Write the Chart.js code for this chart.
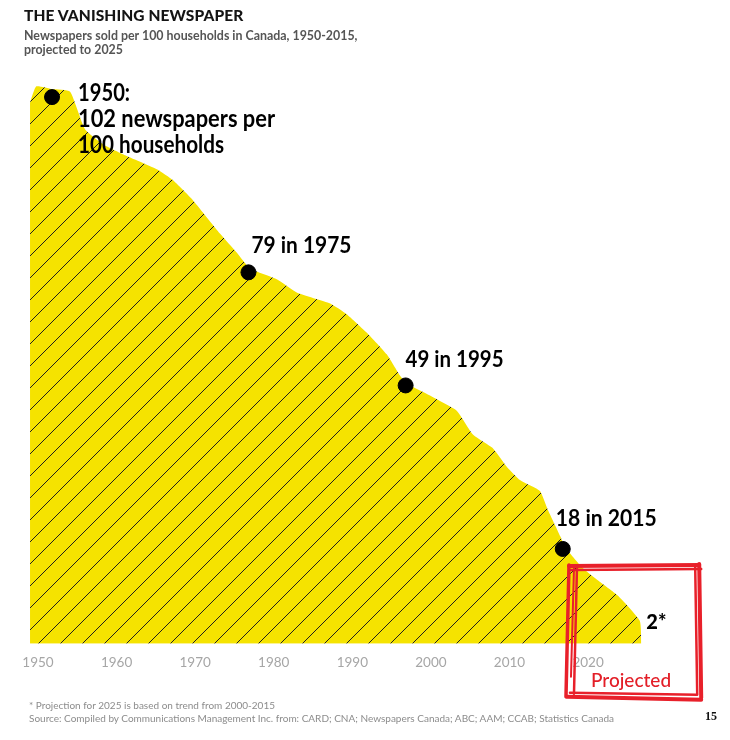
<!DOCTYPE html>
<html><head><meta charset="utf-8">
<script src="https://cdn.jsdelivr.net/npm/chart.js@4.4.1/dist/chart.umd.min.js"></script>
<style>
html,body{margin:0;padding:0;background:#fff;}
#wrap{position:relative;width:730px;height:740px;overflow:hidden;background:#fff;}
canvas{position:absolute;left:0;top:0;}
.t{position:absolute;white-space:nowrap;}
#title{left:24px;top:6px;font:900 15.5px Lato, sans-serif;color:#141414;line-height:18px;letter-spacing:0.1px;}
#sub{left:24px;top:29px;font:bold 12.4px Lato, sans-serif;color:#555;line-height:14px;}
#foot{left:29px;top:699px;font:10px Lato, sans-serif;color:#8c8c8c;line-height:12.5px;}
#page{left:705px;top:709px;font:bold 12px "Liberation Serif", serif;color:#111;}
</style></head>
<body><div id="wrap">
<canvas id="c" width="730" height="740"></canvas>
<div class="t" id="title">THE VANISHING NEWSPAPER</div>
<div class="t" id="sub">Newspapers sold per 100 households in Canada, 1950-2015,<br>projected to 2025</div>
<div class="t" id="foot">* Projection for 2025 is based on trend from 2000-2015<br>Source: Compiled by Communications Management Inc. from: CARD; CNA; Newspapers Canada; ABC; AAM; CCAB; Statistics Canada</div>
<div class="t" id="page">15</div>
</div>
<script>
// Outline of the drawn area (year, newspapers per 100 households)
const edgeYears  = [1947.2,1948,1950,1952.3,1954.2,1956.7,1959.5,1963.4,1965.4,1967.8,1971.4,1973.5,1975.2,1978.6,1981.2,1985.4,1987.5,1990.1,1992.6,1994.3,1995.2,1998.5,2001.5,2003.6,2006.1,2007.9,2009.6,2012.1,2013.1,2014.7,2015.3,2017.5,2019.5,2022,2024.8,2025];
const edgeValues = [101,104,103.5,103,96,93,91,88.5,86.5,83,76.5,73,70,68,65.5,63.5,61.5,58,54,50,48.5,46,43.5,39,36.5,33,30.5,28.5,25,20,18,14.2,11.8,9,4.3,0];
// Highlighted points
const dotYears  = [1950,1975,1995,2015];
const dotValues = [102,69.3,48.2,17.7];
const dotLabels = [["1950:","102 newspapers per","100 households"],["79 in 1975"],["49 in 1995"],["18 in 2015"]];
// Projection end
const projYear = 2025, projValue = 4.3, projLabel = "2*";
const projStart = 2016.3, projBoxLabel = "Projected";
// Axis ticks
const tickYears = [1950,1960,1970,1980,1990,2000,2010,2020];

function makePattern(){
  const s = 22, p = document.createElement('canvas');
  p.width = s; p.height = s;
  const g = p.getContext('2d');
  g.fillStyle = '#f5e300'; g.fillRect(0,0,s,s);
  g.strokeStyle = '#1e1e1e'; g.lineWidth = 1;
  g.beginPath();
  g.moveTo(-2, s+2); g.lineTo(s+2, -2);
  g.moveTo(-s/2-2, s/2+2); g.lineTo(s/2+2, -s/2-2);
  g.moveTo(s/2-2, s*1.5+2); g.lineTo(s*1.5+2, s/2-2);
  g.stroke();
  return g.createPattern(p,'repeat');
}

const hand = '"Lato", "DejaVu Sans", sans-serif';
const annot = {
  id:'annot',
  afterDatasetsDraw(chart){
    const ctx = chart.ctx, xs = chart.scales.x, ys = chart.scales.y;
    ctx.save();
    ctx.fillStyle = '#000';
    ctx.textBaseline = 'alphabetic';
    ctx.textAlign = 'left';
    const lay = [
      {dx:26, dy:4, gap:26, w:[52,197,146], f:24},
      {dx:3, dy:-19, gap:0, w:[100], f:22},
      {dx:0, dy:-18, gap:0, w:[98], f:22},
      {dx:-7, dy:-23, gap:0, w:[101], f:22}
    ];
    dotYears.forEach((yr,i)=>{
      const px = xs.getPixelForValue(yr), py = ys.getPixelForValue(dotValues[i]);
      const L = lay[i];
      ctx.font = 'bold '+L.f+'px '+hand;
      dotLabels[i].forEach((t,j)=>{
        ctx.fillText(t, px+L.dx, py+L.dy+j*L.gap, L.w[j]);
      });
    });
    const ex = xs.getPixelForValue(projYear), ey = ys.getPixelForValue(projValue);
    ctx.font = '900 20px '+hand;
    ctx.fillText(projLabel, ex+5, ey+8, 23);
    const bx0 = xs.getPixelForValue(projStart), bx1 = xs.getPixelForValue(xs.max) - 5;
    const by0 = ys.getPixelForValue(14.5), by1 = chart.chartArea.bottom + 53;
    ctx.strokeStyle = '#e8202a'; ctx.lineCap='round'; ctx.lineJoin='round';
    const seg = (a,b,c,d,w)=>{ctx.lineWidth=w;ctx.beginPath();ctx.moveTo(a,b);ctx.lineTo(c,d);ctx.stroke();};
    seg(bx0-4, by0, bx1, by0-1, 4);
    seg(bx0-2, by0+4, bx1+2, by0+3, 2.5);
    seg(bx1, by0-2, bx1+2, by1+1, 4);
    seg(bx1-4, by0+1, bx1-2, by1-3, 2.5);
    seg(bx0-6, by1, bx1+2, by1+3, 4);
    seg(bx0-3, by1-4, bx1-2, by1-2, 2.5);
    seg(bx0-4, by0-1, bx0-7, by1, 3.5);
    seg(bx0+4, by0+1, bx0+1, by1-3, 2.5);
    seg(bx0+1, by0+2, bx0-2, by1-20, 2);
    ctx.fillStyle = '#e31e27';
    ctx.font = '500 19px '+hand;
    ctx.fillText(projBoxLabel, bx0+18, by1-10, 86);
    ctx.restore();
  }
};

new Chart(document.getElementById('c'), {
  type:'line',
  data:{
    datasets:[
      {
        data: edgeYears.map((x,i)=>({x, y:edgeValues[i]})),
        fill:'origin', backgroundColor: makePattern(),
        borderWidth:0, pointRadius:0, tension:0.15, order:2
      },
      {
        type:'scatter',
        data: dotYears.map((x,i)=>({x, y:dotValues[i]})),
        backgroundColor:'#000', borderColor:'#000', pointRadius:7.5, pointHoverRadius:7.5, order:1
      }
    ]
  },
  options:{
    responsive:false, animation:false,
    layout:{padding:{left:20.6, right:25.8, top:81, bottom:58}},
    plugins:{legend:{display:false}, tooltip:{enabled:false}},
    scales:{
      x:{
        type:'linear', min:1946, max:2033,
        afterBuildTicks: a => { a.ticks = tickYears.map(v=>({value:v})); },
        grid:{display:false, drawTicks:false}, border:{display:false},
        ticks:{padding:11, labelOffset:-14, color:'#a6a6a6', font:{family:'Lato, sans-serif', size:13.5}, callback:v=>String(v), maxRotation:0, autoSkip:false}
      },
      y:{display:false, min:0, max:105}
    }
  },
  plugins:[annot]
});
</script>
</body></html>
